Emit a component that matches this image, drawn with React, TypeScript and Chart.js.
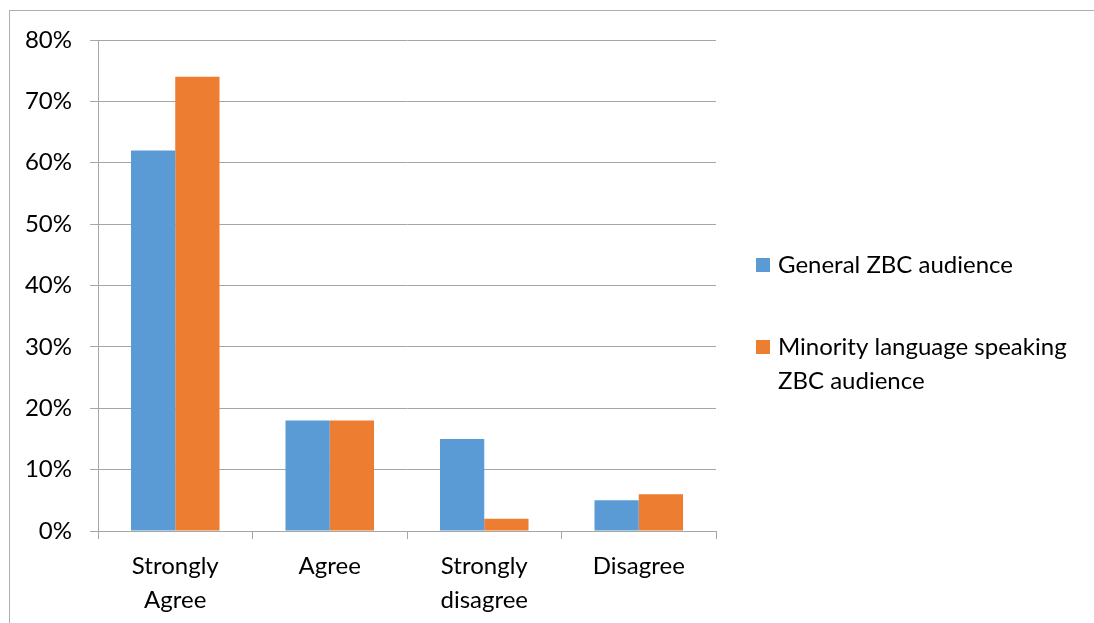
import { useEffect, useRef } from "react";
import { Chart, registerables } from "chart.js";

Chart.register(...registerables);

// Survey answers and the share of each audience giving them
const categories: (string | string[])[] = [["Strongly", "Agree"], "Agree", ["Strongly", "disagree"], "Disagree"];
const seriesNames = ["General ZBC audience", "Minority language speaking ZBC audience"];
const generalAudience = [62, 18, 15, 5];
const minorityAudience = [74, 18, 2, 6];
const seriesColors = ["#5B9BD5", "#ED7D31"];
const yMin = 0;
const yMax = 80;
const yStep = 10;

const FONT = "Lato, 'Open Sans', sans-serif";
const FONT_SIZE = 24;
const TEXT = "#000000";
const GRID = "#A6A6A6";

function wrapText(ctx: CanvasRenderingContext2D, text: string, maxWidth: number): string[] {
  const words = text.split(" ");
  const lines: string[] = [];
  let line = "";
  for (const w of words) {
    const trial = line ? line + " " + w : w;
    if (line && ctx.measureText(trial).width > maxWidth) {
      lines.push(line);
      line = w;
    } else {
      line = trial;
    }
  }
  if (line) lines.push(line);
  return lines;
}

// Legend drawn to the right of the plot, with long names wrapped onto two lines
const sideLegend = {
  id: "sideLegend",
  afterDraw(chart: any) {
    const ctx: CanvasRenderingContext2D = chart.ctx;
    const boxX = 756;
    const box = 14;
    const textX = 778;
    const maxWidth = 305;
    const lineGap = 34;
    const rowCenters = [265, 347];
    ctx.save();
    ctx.font = `${FONT_SIZE}px ${FONT}`;
    ctx.textBaseline = "middle";
    ctx.textAlign = "left";
    chart.data.datasets.forEach((ds: any, i: number) => {
      const y = rowCenters[i];
      ctx.fillStyle = ds.backgroundColor;
      ctx.fillRect(boxX, y - box / 2, box, box);
      ctx.fillStyle = TEXT;
      wrapText(ctx, ds.label, maxWidth).forEach((ln, j) => {
        ctx.fillText(ln, textX, y + j * lineGap);
      });
    });
    ctx.restore();
  },
};

export default function App() {
  const canvasRef = useRef<HTMLCanvasElement | null>(null);

  useEffect(() => {
    if (!canvasRef.current) return;
    const tickFont = { family: FONT, size: FONT_SIZE, lineHeight: 1.42 };
    const chart = new Chart(canvasRef.current, {
      type: "bar",
      data: {
        labels: categories,
        datasets: [
          {
            label: seriesNames[0],
            data: generalAudience,
            backgroundColor: seriesColors[0],
            borderWidth: 0,
            categoryPercentage: 0.573,
            barPercentage: 1,
          },
          {
            label: seriesNames[1],
            data: minorityAudience,
            backgroundColor: seriesColors[1],
            borderWidth: 0,
            categoryPercentage: 0.573,
            barPercentage: 1,
          },
        ],
      },
      options: {
        responsive: false,
        animation: false,
        devicePixelRatio: 1,
        layout: { padding: { top: 40, right: 378, left: 0, bottom: 0 } },
        plugins: {
          legend: { display: false },
          tooltip: { enabled: false },
        },
        scales: {
          x: {
            offset: true,
            grid: {
              offset: true,
              drawOnChartArea: false,
              drawTicks: true,
              tickLength: 8,
              color: GRID,
              lineWidth: 1,
            },
            border: { display: true, color: GRID },
            ticks: {
              color: TEXT,
              font: tickFont,
              padding: 10,
              maxRotation: 0,
              autoSkip: false,
            },
            afterFit: (s: any) => {
              s.height = 92;
            },
          },
          y: {
            min: yMin,
            max: yMax,
            ticks: {
              stepSize: yStep,
              callback: (v: any) => `${v}%`,
              color: TEXT,
              font: tickFont,
              padding: 18,
            },
            grid: { color: GRID, tickLength: 8, lineWidth: 1 },
            border: { display: true, color: GRID },
            afterFit: (s: any) => {
              s.width = 98;
            },
          },
        },
      },
      plugins: [sideLegend],
    });
    return () => chart.destroy();
  }, []);

  return (
    <div style={{ position: "fixed", inset: 0, overflow: "hidden", background: "#ffffff" }}>
      <div
        style={{
          position: "absolute",
          left: 9,
          top: 10,
          width: 1200,
          height: 800,
          border: "1.5px solid #ADADAD",
        }}
      />
      <canvas
        ref={canvasRef}
        width={1094}
        height={623}
        style={{ position: "absolute", left: 0, top: 0, width: 1094, height: 623 }}
      />
    </div>
  );
}
